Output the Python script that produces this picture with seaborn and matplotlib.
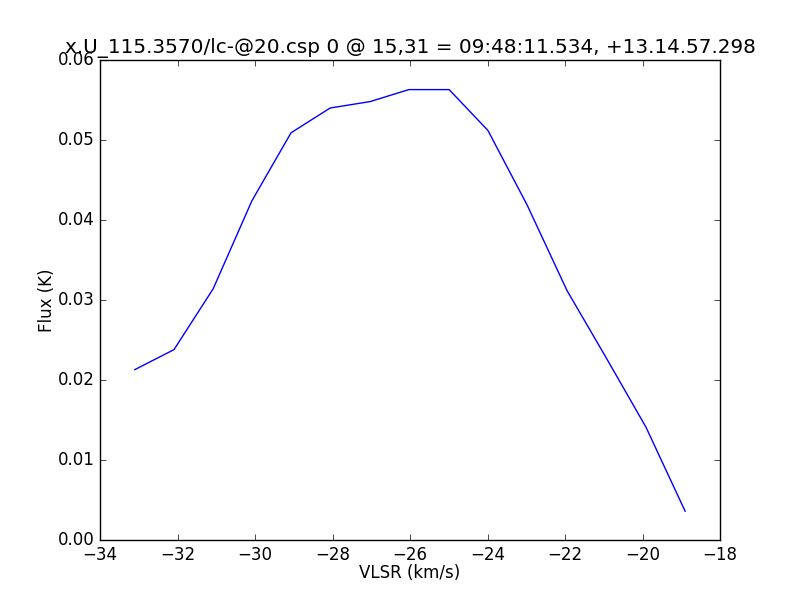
import matplotlib
matplotlib.use("Agg")
import matplotlib.pyplot as plt
import seaborn as sns
import pandas as pd

# spectrum
vlsr = [-33.10, -32.09, -31.08, -30.08, -29.07, -28.06, -27.03, -26.03,
        -24.99, -23.99, -22.98, -21.95, -20.94, -19.91, -18.90]
flux = [0.0213, 0.0238, 0.0314, 0.0424, 0.0509, 0.0540, 0.0548, 0.0563,
        0.0563, 0.0512, 0.0419, 0.0312, 0.0228, 0.0141, 0.0036]

title = "x.U_115.3570/lc-@20.csp 0 @ 15,31 = 09:48:11.534, +13.14.57.298"

plt.style.use("classic")
plt.rcParams["font.family"] = ["DejaVu Sans"]

df = pd.DataFrame({"vlsr": vlsr, "flux": flux})

fig = plt.figure(figsize=(8, 6), dpi=100, facecolor="white")
ax = fig.add_subplot(111)
sns.lineplot(data=df, x="vlsr", y="flux", color="b", linewidth=1,
             estimator=None, sort=False, ax=ax)
ax.set_xlim(-34, -18)
ax.set_ylim(0, 0.06)
ax.set_xlabel("VLSR (km/s)", labelpad=0)
ax.set_ylabel("Flux (K)", labelpad=1)
ax.set_title(title)

fig.savefig("out.png", dpi=100, facecolor="white")
